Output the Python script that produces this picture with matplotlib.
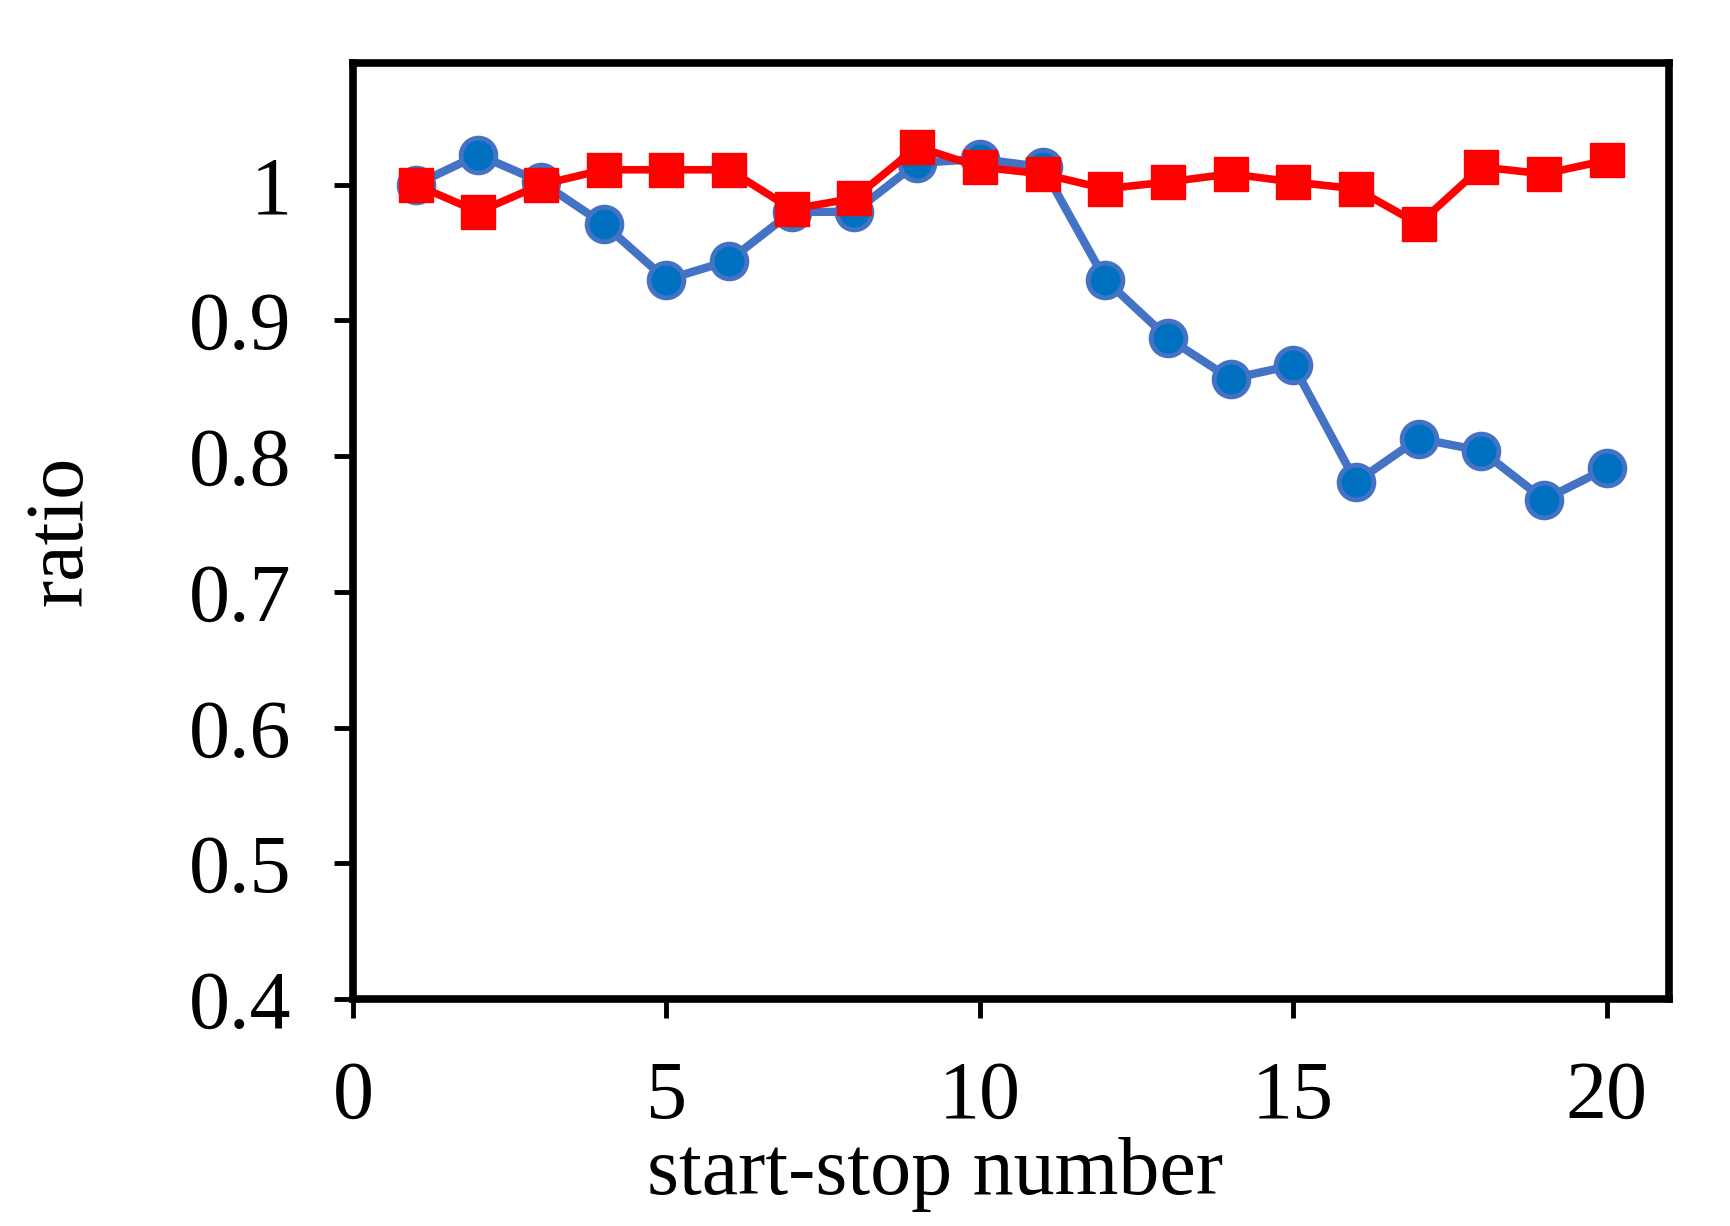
import numpy as np
import matplotlib
matplotlib.use('Agg')
import matplotlib.pyplot as plt

# start-stop number
cycles = list(range(1, 21))
# ratio, blue circles
ratio_blue = [1.000, 1.022, 1.002, 0.971, 0.930, 0.944, 0.980, 0.980, 1.016, 1.019,
              1.013, 0.930, 0.887, 0.857, 0.867, 0.781, 0.813, 0.804, 0.768, 0.791]
# ratio, red squares
ratio_red = [1.000, 0.980, 1.000, 1.011, 1.011, 1.011, 0.982, 0.990, 1.028, 1.013,
             1.008, 0.997, 1.002, 1.008, 1.002, 0.997, 0.971, 1.013, 1.008, 1.018]

xticks = [0, 5, 10, 15, 20]
yticks = [0.4, 0.5, 0.6, 0.7, 0.8, 0.9, 1.0]
ytick_labels = ['0.4', '0.5', '0.6', '0.7', '0.8', '0.9', '1']

plt.rcParams['font.family'] = ['Liberation Serif', 'DejaVu Serif']

fig = plt.figure(figsize=(17.3, 12.26), dpi=100)
ax = fig.add_axes([0.204, 0.185, 0.761, 0.764])

ax.plot(cycles, ratio_blue, color='#4472C4', lw=6, marker='o', ms=25,
        mfc='#0070C0', mec='#4472C4', mew=3.5, zorder=2)
ax.plot(cycles, ratio_red, color='#FF0000', lw=5.5, marker='s', ms=24,
        mfc='#FF0000', mec='#FF0000', zorder=3)

ax.set_xlim(0, 21)
ax.set_ylim(0.4, 1.09)
ax.set_xticks(xticks)
ax.set_yticks(yticks)
ax.set_yticklabels(ytick_labels)

for s in ax.spines.values():
    s.set_linewidth(5.5)
ax.tick_params(axis='both', direction='out', length=14, width=3.5, labelsize=59)
ax.tick_params(axis='y', pad=30)
ax.tick_params(axis='x', pad=30)

ax.set_xlabel('start-stop number', fontsize=59, labelpad=2)
ax.xaxis.set_label_coords(0.442, -0.147)
ax.set_ylabel('ratio', fontsize=59, labelpad=65)

fig.savefig('out.png', dpi=100)
